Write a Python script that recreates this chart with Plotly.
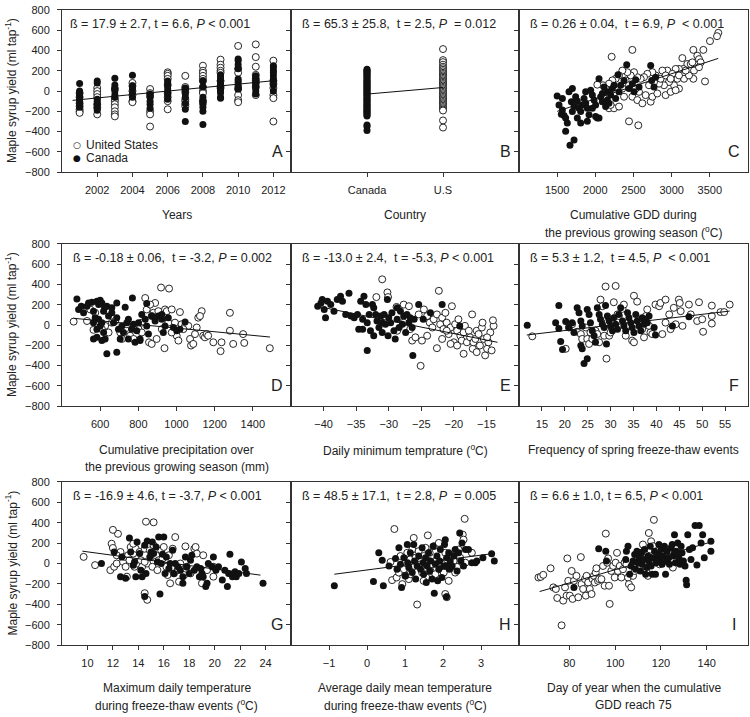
import plotly.graph_objects as go

FONT = "Liberation Sans, Arial, sans-serif"
INK = "#222222"
LINE = "#333333"

# ---------------- data ----------------
# Panel A: yield by year
A_us = {2001: [-20, -60, -120, -150, -180, -200, -215],
        2002: [30, 0, -30, -60, -130, -160, -230],
        2003: [20, -80, -100, -130, -160, -200, -230, -250],
        2004: [80, 50, 0, -40, -100, -110],
        2005: [20, -20, -50, -200, -230, -350],
        2006: [185, 170, 150, 120, 60, -20, -60, -100, -180],
        2007: [150, 40, 20, -10, -80, -100, -130, -150],
        2008: [250, 200, 180, 150, 120, 100, 40, 0, -20, -100, -110],
        2009: [310, 260, 230, 200, 180, 100, 50, 30],
        2010: [445, 220, 180, 20, -40, -90, -110],
        2011: [460, 335, 240, 160, 120, 100, 80, 40, -40],
        2012: [300, 100, 70, 30, -40, -70, -300]}
A_ca = {2001: [75, 0, -20, -50, -80, -100, -130, -160],
        2002: [100, 80, -80, -100, -130, -170, -190],
        2003: [125, 60, 30, 0, -40, -60],
        2004: [155, 50, 20, -20, -60],
        2005: [-30, -60, -100, -130, -170],
        2006: [100, 80, 50, 20, -10, -40, -80],
        2007: [30, 0, -30, -60, -120, -180, -300],
        2008: [100, 40, -60, -90, -130, -160, -200, -330],
        2009: [160, 140, 120, 100, 80, 60, 40, 20, 0, -20, -60, -70],
        2010: [315, 300, 260, 220, 120, 100, 80, 50, 40, 20],
        2011: [150, 130, 110, 90, 70, 50, 30, 0, -30],
        2012: [250, 230, 200, 180, 150, 120, 100, 60, 0]}
A_fit = [(2000.6, -92), (2012, 102)]

# Panel B: yield by country
B_ca = [215, 205, 195, 185, 172, 160, 150, 138, 125, 112, 100, 92, 80, 70, 58, 45, 35, 22,
        12, 0, -10, -22, -35, -45, -58, -70, -82, -95, -105, -118, -130, -142, -155, -165,
        -178, -190, -200, -212, -222, -235, -245, -335, -350, -390]
B_us = [414, 305, 285, 260, 240, 225, 210, 195, 180, 168, 155, 142, 130, 118, 105, 92, 80,
        68, 55, 42, 30, 18, 5, -8, -20, -32, -45, -58, -70, -82, -95, -108, -120, -132,
        -145, -158, -170, -182, -192, -290, -360]
B_cats = ["Canada", "U.S"]
B_fit = [-30, 35]

# Panel C: cumulative GDD previous season
C_ca = [(1500, -50), (1524, -137), (1568, -186), (1555, -228), (1590, -241), (1611, -267),
        (1633, -315), (1568, -73), (1655, -8), (1699, 24), (1686, -105), (1721, -153),
        (1742, -56), (1764, -98), (1786, -170), (1808, -202), (1830, -137), (1852, -73),
        (1873, -121), (1895, -170), (1917, -234), (1939, 8), (1961, -40), (1983, -89),
        (2004, -137), (2026, -267), (2048, 121), (2070, -56), (2092, -105), (2114, 40),
        (2135, -153), (2157, -8), (2179, -121), (2201, -40), (2223, 24), (2245, 57),
        (2266, -73), (2297, 160), (2310, -8), (2332, 57), (2376, 105), (2411, 260),
        (2441, 24), (2485, 73), (2528, 112), (2507, -8), (2572, 40), (2725, 251), (2738, 105),
        (2769, 40), (2790, 137), (1764, -267), (1699, -202), (1808, -315), (1895, -299),
        (2004, -250), (2048, -267), (1611, -396), (1721, -483), (1668, -535), (2092, -24),
        (2157, -89), (1961, -170), (1873, -8)]
C_us = [(2485, 406), (2214, 338), (3611, 574), (3594, 541), (3502, 493), (3415, 406),
        (3284, 406), (3336, 348), (3358, 315), (3380, 283), (3140, 325), (3205, 267),
        (3249, 267), (3153, 218), (3096, 218), (3052, 218), (2943, 202), (2878, 202),
        (3009, 170), (3074, 121), (3162, 121), (3284, 121), (3437, 95), (3096, 24), (3031, 57),
        (2965, 89), (2900, 57), (2834, 73), (2790, 154), (2747, 186), (2681, 170), (2638, 137),
        (2594, 121), (2550, 137), (2507, 186), (2463, 154), (2419, 186), (2354, 202),
        (2310, 154), (2266, 121), (2223, 105), (2179, 73), (2135, 24), (2100, 57), (2026, 63),
        (2397, 105), (2441, 57), (2354, 24), (2288, 8), (2245, -24), (2376, -56), (2485, -56),
        (2550, -89), (2616, -121), (2725, -105), (2659, -40), (2747, -56), (2812, -24),
        (2921, -40), (2987, -8), (3052, 8), (2572, -8), (2528, 24), (2179, -170), (2245, -170),
        (2310, -153), (2201, -137), (2114, -73), (2441, -299), (2563, -338), (2703, 57),
        (2769, 89), (2856, 121), (2921, 154), (2987, 121), (3096, 154), (3227, 154),
        (3293, 202), (3358, 235), (3184, 202), (3271, 283)]
C_fit = [(1500, -200), (3610, 322)]

# Panel D: cumulative precipitation previous season
D_ca = [(478, 257), (487, 154), (501, 186), (513, 121), (531, 186), (539, 218), (557, 225),
        (565, 137), (583, 234), (592, 202), (600, 244), (609, 218), (618, 137), (623, 170),
        (635, 186), (574, 73), (592, 57), (609, 24), (565, 24), (583, -40), (600, -8),
        (618, -73), (565, -137), (583, -121), (609, -153), (626, -137), (644, 89), (661, 121),
        (670, 24), (687, 73), (696, -40), (714, -8), (722, -73), (740, 24), (748, 57),
        (766, -40), (775, 8), (792, -56), (801, 24), (809, -153), (818, 105), (836, 57),
        (844, -8), (853, -89), (870, 89), (888, 40), (905, 89), (923, 57), (940, -8), (957, 73),
        (984, -24), (1001, -56), (1018, -40), (1045, 31), (931, -73), (923, 105), (769, 267),
        (844, 212), (731, 176), (661, 170), (687, 218), (635, -283), (687, -267), (705, -137),
        (748, -137), (783, -170), (809, -137)]
D_us = [(461, 34), (531, 40), (548, 154), (565, -47), (574, 121), (626, -8), (661, 24),
        (679, 40), (705, -73), (714, -137), (731, -40), (757, -105), (775, -137), (801, -40),
        (818, -73), (836, 267), (844, 154), (856, -170), (870, -186), (879, 121), (888, 218),
        (896, -137), (905, 137), (919, 370), (937, -228), (940, 154), (949, 137), (961, 360),
        (957, 24), (975, 154), (992, 24), (1001, -105), (1010, -153), (1018, 128), (1027, 8),
        (1045, -8), (1062, -8), (1071, -137), (1076, -202), (1088, -186), (1097, -89),
        (1106, -24), (1114, 73), (1132, 137), (1123, 89), (1140, -105), (1149, -121),
        (1158, -89), (1166, -105), (1193, -170), (1236, -170), (1231, -257), (1280, 121),
        (1280, -56), (1297, -186), (1349, -89), (1355, -176), (1489, -228), (862, 202),
        (870, 89), (818, 24), (775, -8), (740, 8), (609, -40), (644, -73), (923, -40),
        (975, -73), (1036, -40)]
D_fit = [(460, 67), (1490, -118)]

# Panel E: daily minimum temperature
E_ca = [(-40.9, 186), (-40.4, 218), (-40.2, 251), (-39.9, 154), (-39.7, 73), (-39.4, 234),
        (-38.9, 202), (-38.4, 137), (-37.9, 251), (-37.4, 283), (-37.1, 234), (-36.6, 105),
        (-36.1, 315), (-35.8, 89), (-35.3, 73), (-34.8, 105), (-34.6, -40), (-34.3, 234),
        (-34.0, 57), (-33.8, 283), (-33.5, 202), (-33.3, 24), (-33.0, 105), (-32.8, -56),
        (-32.5, 202), (-32.3, -105), (-32.0, 105), (-31.8, 40), (-31.5, -24), (-31.2, 89),
        (-31.0, 24), (-30.7, 105), (-30.5, 8), (-30.2, 251), (-30.1, -105), (-30.0, 73),
        (-29.7, 24), (-29.5, 121), (-29.2, -56), (-29.0, -137), (-28.7, 57), (-28.4, -24),
        (-28.2, 137), (-27.9, 8), (-27.7, 89), (-27.4, -73), (-27.2, 105), (-26.9, 24),
        (-26.7, 73), (-26.4, -24), (-26.1, 57), (-25.4, 202), (-24.7, 57), (-23.6, 121),
        (-21.8, 202), (-19.1, -8), (-33.3, -250), (-26.3, -299), (-32.3, 170), (-28.7, 170),
        (-31.0, -73), (-34.0, -40)]
E_us = [(-31.0, 451), (-30.2, 322), (-31.9, 276), (-30.1, 276), (-28.8, 179), (-27.7, 202),
        (-26.9, 186), (-25.4, 105), (-24.6, 154), (-24.1, 89), (-23.7, 24), (-23.3, -24),
        (-23.1, 57), (-22.6, 105), (-22.3, 338), (-22.1, 8), (-21.8, 73), (-21.6, -40),
        (-21.3, 121), (-21.1, 24), (-20.8, -89), (-20.5, -24), (-20.3, 186), (-20.0, -170),
        (-19.8, 8), (-19.5, -56), (-19.3, 57), (-19.0, -105), (-18.8, -153), (-18.5, -73),
        (-18.3, -8), (-18.0, -170), (-17.7, -56), (-17.5, -121), (-17.2, 105), (-17.1, -234),
        (-17.0, -170), (-16.7, -137), (-16.5, -56), (-16.2, -89), (-16.0, -202), (-15.7, -24),
        (-15.6, 24), (-15.4, -137), (-15.2, -299), (-14.9, -234), (-14.7, -170), (-14.4, -73),
        (-14.2, -250), (-13.9, -8), (-14.0, 47), (-25.1, -402), (-26.4, -153), (-22.6, -228),
        (-20.5, -186), (-18.5, -283), (-27.7, 24), (-28.7, -56), (-26.7, -40), (-25.9, -121),
        (-24.9, -153), (-24.1, -105), (-21.8, -137), (-21.1, -56), (-19.5, -202),
        (-16.5, -267), (-14.9, -121)]
E_fit = [(-41.0, 185), (-13.3, -170)]

# Panel F: frequency of spring freeze-thaw events
F_ca = [(11.8, -2), (18.0, 24), (18.7, 192), (18.7, -34), (19.1, -163), (19.5, -241), (20.2, 34),
        (20.9, -24), (21.6, 24), (22.0, -73), (22.7, 170), (23.1, 121), (23.5, 40), (23.8, -8),
        (23.5, -202), (23.8, -234), (24.2, -380), (24.9, -331), (24.9, 154), (25.3, 105),
        (25.6, 24), (26.0, -56), (26.4, -105), (26.7, -170), (27.1, 170), (27.5, 105),
        (27.8, 57), (28.2, 8), (28.6, -24), (28.9, 192), (29.1, -186), (29.3, 89), (29.7, 40),
        (30.0, -8), (30.4, -56), (30.7, 73), (31.1, 8), (31.5, -40), (31.8, 105), (32.2, 170),
        (32.6, 40), (32.9, -8), (33.3, -56), (33.7, 121), (34.0, 73), (34.4, 24), (34.7, -24),
        (35.1, -73), (35.5, 105), (35.8, 40), (36.2, -8), (36.6, -56), (36.9, 73), (37.3, 8),
        (37.7, 57), (38.0, 24), (38.4, 89), (39.5, -24), (39.8, -98), (47.1, 83), (43.5, -8)]
F_us = [(12.9, -111), (20.2, -234), (20.9, -24), (21.6, 8), (22.7, -66), (23.5, -89),
        (23.8, -137), (24.6, -24), (24.9, -137), (25.3, -186), (25.6, -73), (26.0, -137),
        (26.7, -56), (27.1, -89), (27.5, -170), (27.8, 251), (28.2, 186), (28.6, -105),
        (28.9, 380), (29.1, -331), (29.3, 24), (29.7, -105), (30.0, -73), (30.7, 225),
        (31.1, 386), (31.5, 105), (31.8, 89), (32.6, 160), (32.9, 202), (33.3, -105),
        (33.7, -8), (34.7, -153), (35.1, -170), (35.1, 289), (35.8, 231), (36.2, 40),
        (36.9, -40), (37.3, -121), (37.7, 89), (38.0, 154), (38.4, -8), (38.7, -73),
        (39.1, -89), (39.8, 202), (40.6, 186), (40.9, 218), (41.3, -89), (42.0, 251),
        (42.0, 24), (42.8, 105), (43.1, -40), (43.8, 170), (44.2, 8), (44.9, 251), (45.1, 218),
        (45.3, 137), (45.7, -8), (47.1, 202), (47.5, 105), (48.9, 40), (49.3, 225), (50.0, 57),
        (50.2, -66), (52.1, 192), (52.1, 89), (52.1, 15), (54.0, 128), (54.8, 128), (56.0, 202)]
F_fit = [(11.7, -98), (56.0, 138)]

# Panel G: maximum daily temperature during freeze-thaw events
G_ca = [(11.1, 0), (12.1, 113), (12.6, -129), (12.7, 65), (13.0, -145), (13.3, 249), (13.4, 113),
        (13.6, -16), (13.7, 16), (13.8, -129), (13.9, 210), (14.1, 97), (14.2, -65),
        (14.3, -129), (14.5, 178), (14.6, -97), (14.7, 220), (14.9, 65), (15.0, 113),
        (15.1, 210), (15.2, 97), (15.4, 162), (15.5, 16), (15.6, 259), (15.8, 0), (15.9, 90),
        (16.0, 259), (16.1, -97), (16.2, 65), (16.4, -48), (16.5, 0), (16.7, 129), (16.8, -97),
        (16.9, 0), (17.1, -32), (17.3, -65), (17.5, -129), (17.5, -194), (17.7, 65),
        (17.8, -32), (18.0, -97), (18.1, 32), (18.2, 81), (18.4, -65), (18.6, -32),
        (18.8, -129), (18.9, -48), (19.0, -97), (19.1, -129), (19.3, -226), (19.4, -194),
        (19.5, 0), (19.8, -32), (19.9, 65), (20.1, -65), (20.3, -32), (20.6, -162), (20.8, -65),
        (21.0, -226), (21.1, -97), (21.2, 90), (21.4, -129), (21.5, -97), (21.6, -81),
        (21.7, -129), (21.9, -97), (22.1, 16), (22.4, -48), (22.5, -97), (23.8, -194),
        (14.5, -323), (15.7, -300)]
G_us = [(9.7, 65), (10.6, -16), (11.8, -65), (11.9, 194), (12.0, 152), (12.1, -32), (12.3, 0),
        (12.4, 291), (12.6, 113), (12.8, 16), (12.9, 65), (13.0, -32), (13.2, 81), (13.3, 32),
        (13.4, 162), (13.6, 97), (13.7, -32), (13.8, 145), (13.9, 0), (14.1, 113), (14.2, 32),
        (14.3, -32), (14.5, 145), (14.5, -291), (14.7, -356), (14.7, 0), (14.9, 129),
        (15.0, 65), (15.1, -32), (15.2, 178), (15.4, 81), (15.5, -65), (15.6, 32), (15.8, 129),
        (15.9, 48), (16.0, 162), (16.2, -32), (16.3, -113), (16.4, 81), (16.5, -194),
        (16.7, 145), (16.8, -97), (16.9, 259), (17.1, -65), (17.2, -178), (17.3, 0),
        (17.6, -113), (17.7, 168), (17.8, -32), (18.1, -97), (18.4, 145), (18.5, 162),
        (18.6, 97), (19.0, -194), (19.1, 81), (19.4, -65), (19.9, -32), (19.9, -129),
        (14.6, 410), (15.2, 404), (14.5, 16), (13.6, 194), (12.3, 81), (12.0, 330),
        (13.1, -129)]
G_fit = [(9.6, 121), (23.6, -114)]

# Panel H: average daily mean temperature during freeze-thaw events
H_ca = [(-0.86, -218), (0.17, -176), (0.31, 105), (0.40, 31), (0.43, -218), (0.58, -24),
        (0.75, 50), (0.79, -56), (0.84, 154), (0.88, -8), (0.91, -234), (0.97, 57), (1.01, -121),
        (1.06, 186), (1.07, 8), (1.10, -40), (1.14, 105), (1.19, -89), (1.23, 186), (1.25, 24),
        (1.28, -153), (1.32, -24), (1.36, 73), (1.41, -56), (1.45, 154), (1.48, 8),
        (1.49, -105), (1.54, 57), (1.56, -186), (1.58, -24), (1.62, 105), (1.65, -73),
        (1.67, 24), (1.71, -153), (1.74, 170), (1.77, -292), (1.80, -8), (1.84, 73),
        (1.86, -170), (1.89, -56), (1.91, 24), (1.93, 137), (1.97, -137), (2.02, -24),
        (2.04, 186), (2.06, 234), (2.09, -325), (2.10, 57), (2.15, 105), (2.17, -56),
        (2.19, 24), (2.24, -24), (2.28, 73), (2.32, 137), (2.37, -73), (2.41, 105), (2.44, 299),
        (2.47, 24), (2.50, 202), (2.54, -24), (2.59, 137), (2.67, 137), (2.76, 8), (2.85, 8),
        (2.89, 24), (3.05, 57), (3.28, 95), (3.35, 24), (2.10, -24)]
H_us = [(0.62, 15), (0.66, -163), (0.72, 338), (0.78, -137), (0.84, -89), (0.88, 73),
        (0.93, -202), (0.97, -56), (1.01, 8), (1.06, 105), (1.10, -153), (1.14, 40), (1.19, 137),
        (1.23, 251), (1.25, -24), (1.28, 57), (1.32, -402), (1.36, 121), (1.41, -8),
        (1.45, -89), (1.49, 73), (1.54, 154), (1.56, -137), (1.60, 276), (1.62, 24), (1.65, 105),
        (1.67, -73), (1.71, -8), (1.76, 170), (1.80, -105), (1.84, 40), (1.89, 202),
        (1.93, -56), (1.97, 8), (2.02, -89), (2.06, 105), (2.10, 40), (2.15, -170),
        (2.19, -24), (2.24, 73), (2.28, 24), (2.32, -89), (2.37, -34), (2.41, 137), (2.45, 57),
        (2.52, 283), (2.54, 234), (2.57, 438), (2.59, 8), (2.76, 105), (2.06, -299),
        (2.10, -331), (1.49, -170), (1.14, -105), (1.01, -121)]
H_fit = [(-0.86, -105), (3.31, 97)]

# Panel I: day of year when cumulative GDD reaches 75
I_ca = [(82.0, -234), (92.8, 144), (95.9, 121), (96.2, 24), (104.6, 40), (104.9, 121),
        (105.6, 170), (106.3, -105), (107.0, -24), (107.8, 24), (108.5, 89), (108.9, -56),
        (109.5, 121), (109.9, 8), (110.4, 57), (111.0, -73), (111.4, 105), (111.8, -8),
        (112.4, 40), (112.8, 137), (113.3, -105), (113.8, -40), (114.3, 73), (114.7, 24),
        (115.3, 170), (115.7, -24), (116.2, -105), (116.7, 57), (117.2, 121), (117.6, -105),
        (117.9, 8), (118.6, 89), (119.1, 186), (119.4, 40), (120.1, 137), (120.5, -8),
        (120.8, 73), (121.5, 170), (122.0, -105), (122.3, 24), (122.7, 121), (123.4, 57),
        (123.7, -8), (124.4, 154), (124.9, 186), (125.4, 73), (125.9, 283), (126.3, 8),
        (126.6, 121), (127.3, 202), (127.8, 57), (128.3, -8), (128.8, 170), (129.2, 105),
        (129.8, 24), (130.5, -24), (131.0, -163), (131.2, -208), (131.7, 283), (132.4, 137),
        (133.1, 40), (133.8, 154), (134.9, 373), (135.7, -14), (136.7, 373), (137.5, 202),
        (138.2, 283), (138.9, 57), (141.8, 121), (141.8, 218), (125.9, 105), (128.1, 105)]
I_us = [(66.5, -137), (67.5, -131), (68.6, -111), (71.8, -47), (73.0, -234), (74.1, -250),
        (74.7, -338), (76.6, -606), (77.3, -364), (78.1, -234), (78.8, -315), (79.1, 50),
        (79.5, -170), (80.2, -315), (81.0, -73), (81.4, -347), (82.0, -170), (83.1, -121),
        (83.9, -331), (85.0, 63), (85.3, -202), (86.0, -250), (86.8, -153), (87.2, -315),
        (87.5, -121), (88.2, -186), (88.9, -250), (89.7, -299), (90.1, -153), (90.7, -121),
        (91.1, -186), (91.5, -89), (91.8, -47), (92.5, -170), (93.0, -153), (94.0, -153),
        (94.7, -24), (95.4, -218), (95.9, 293), (96.5, 8), (96.9, 50), (97.3, -218),
        (97.6, -396), (98.3, -73), (99.1, -24), (99.8, -137), (100.2, 8), (100.8, 105),
        (101.2, -73), (102.0, -24), (102.7, -137), (103.4, -56), (104.1, 8), (104.9, -8),
        (105.6, -137), (106.0, -202), (107.0, -234), (107.8, -121), (108.5, -73), (109.2, 24),
        (109.9, 57), (110.7, -56), (111.4, 105), (112.1, 186), (112.8, 8), (113.6, -73),
        (114.3, -121), (114.7, 299), (115.3, 137), (115.7, 218), (116.5, 170), (116.9, 428),
        (117.2, 73), (117.9, 8), (118.6, 121), (119.4, -8), (120.1, 40), (122.3, 137),
        (125.2, -40)]
I_fit = [(67.0, -275), (143.0, 218)]

Y_TICKS = [-800, -600, -400, -200, 0, 200, 400, 600, 800]

STATS = ["ß = 17.9 ± 2.7, t = 6.6, <i>P</i> &lt; 0.001",
         "ß = 65.3 ± 25.8,\u00a0 t = 2.5, <i>P</i>\u00a0 = 0.012",
         "ß = 0.26 ± 0.04,\u00a0 t = 6.9, <i>P</i>\u00a0 &lt; 0.001",
         "ß = -0.18 ± 0.06,\u00a0 t = -3.2, <i>P</i> = 0.002",
         "ß = -13.0 ± 2.4,\u00a0 t = -5.3, <i>P</i> &lt; 0.001",
         "ß = 5.3 ± 1.2,\u00a0 t = 4.5, <i>P</i>\u00a0 &lt; 0.001",
         "ß = -16.9 ± 4.6, t = -3.7, <i>P</i> &lt; 0.001",
         "ß = 48.5 ± 17.1,\u00a0 t = 2.8, <i>P</i>\u00a0 = 0.005",
         "ß = 6.6 ± 1.0, t = 6.5, <i>P</i> &lt; 0.001"]
LETTERS = ["A", "B", "C", "D", "E", "F", "G", "H", "I"]
XTITLES = [["Years"], ["Country"],
           ["Cumulative GDD during", "the previous growing season (<sup>o</sup>C)"],
           ["Cumulative precipitation over", "the previous growing season (mm)"],
           ["Daily minimum temprature (<sup>o</sup>C)"],
           ["Frequency of spring freeze-thaw events"],
           ["Maximum daily temperature", "during freeze-thaw events (<sup>o</sup>C)"],
           ["Average daily mean temperature", "during freeze-thaw events (<sup>o</sup>C)"],
           ["Day of year when the cumulative", "GDD reach 75"]]
X_RANGES = [[2000, 2013], [-1, 2], [1000, 4000], [400, 1600], [-45, -10], [10, 60],
            [8, 26], [-2, 4], [58, 158]]
X_TICKS = [[2002, 2004, 2006, 2008, 2010, 2012], None, [1500, 2000, 2500, 3000, 3500],
           [600, 800, 1000, 1200, 1400], [-40, -35, -30, -25, -20, -15],
           [15, 20, 25, 30, 35, 40, 45, 50, 55], [10, 12, 14, 16, 18, 20, 22, 24],
           [-1, 0, 1, 2, 3], [80, 100, 120, 140]]

# ---------------- assemble ----------------
def unzip(pairs):
    return [p[0] for p in pairs], [p[1] for p in pairs]

def flat(d):
    xs, ys = [], []
    for yr, vals in d.items():
        for v in vals:
            xs.append(yr)
            ys.append(v)
    return xs, ys

series = []
series.append((flat(A_us), flat(A_ca), unzip(A_fit)))
series.append(((["U.S"] * len(B_us), B_us), (["Canada"] * len(B_ca), B_ca), (B_cats, B_fit)))
for us, ca, fit in [(C_us, C_ca, C_fit), (D_us, D_ca, D_fit), (E_us, E_ca, E_fit),
                    (F_us, F_ca, F_fit), (G_us, G_ca, G_fit), (H_us, H_ca, H_fit),
                    (I_us, I_ca, I_fit)]:
    series.append((unzip(us), unzip(ca), unzip(fit)))

W, H = 750, 717
COL_X = [(62, 291), (291, 519), (519, 748)]
ROW_Y = [(4, 169), (242, 407), (484, 650)]

def px(x):
    return x / W

def py(y):
    return 1 - y / H

fig = go.Figure()
annotations = []
tickfont = dict(family=FONT, size=11, color=INK)

for i in range(9):
    r, c = divmod(i, 3)
    sfx = "" if i == 0 else str(i + 1)
    xa, ya = "x" + sfx, "y" + sfx
    (usx, usy), (cax, cay), (fx, fy) = series[i]
    fig.add_trace(go.Scatter(x=usx, y=usy, mode="markers", xaxis=xa, yaxis=ya,
                             name="United States", showlegend=False,
                             marker=dict(symbol="circle", size=7, color="white",
                                         line=dict(color="#111111", width=0.9))))
    fig.add_trace(go.Scatter(x=cax, y=cay, mode="markers", xaxis=xa, yaxis=ya,
                             name="Canada", showlegend=False,
                             marker=dict(symbol="circle", size=7, color="#111111",
                                         line=dict(width=0))))
    fig.add_trace(go.Scatter(x=fx, y=fy, mode="lines", xaxis=xa, yaxis=ya,
                             showlegend=False, line=dict(color="#111111", width=1)))

    x0, x1 = COL_X[c]
    y0, y1 = ROW_Y[r]
    xaxis = dict(domain=[px(x0), px(x1)], anchor=ya, range=X_RANGES[i],
                 showline=True, mirror=True, linecolor=LINE, linewidth=1,
                 ticks="outside", ticklen=4, tickcolor=LINE, tickwidth=1,
                 showgrid=False, zeroline=False, tickfont=tickfont,
                 ticklabelstandoff=4)
    if X_TICKS[i] is None:
        xaxis.update(type="category", categoryorder="array", categoryarray=B_cats)
    else:
        xaxis.update(tickmode="array", tickvals=X_TICKS[i])
    yaxis = dict(domain=[py(y1), py(y0)], anchor=xa, range=[-800, 800],
                 showline=True, mirror=True, linecolor=LINE, linewidth=1,
                 ticks="outside", ticklen=4, tickcolor=LINE, tickwidth=1,
                 showgrid=False, zeroline=False, tickfont=tickfont,
                 tickmode="array", tickvals=Y_TICKS, showticklabels=(c == 0),
                 ticklabelstandoff=5)
    fig.layout["xaxis" + sfx] = xaxis
    fig.layout["yaxis" + sfx] = yaxis

    # stats text
    sx = x0 + (6 if i == 0 else 9)
    sy = y0 + 14
    annotations.append(dict(x=px(sx), y=py(sy), xref="paper", yref="paper",
                            text=STATS[i], showarrow=False, xanchor="left", yanchor="middle",
                            font=dict(family=FONT, size=12.5, color=INK)))
    # panel letter
    annotations.append(dict(x=px(x1 - 14), y=py(y1 - 21), xref="paper", yref="paper",
                            text=LETTERS[i], showarrow=False, xanchor="center",
                            yanchor="middle", font=dict(family=FONT, size=16, color=INK)))
    # x titles
    first = [213, 452, 694][r]
    for k, line in enumerate(XTITLES[i]):
        annotations.append(dict(x=px((x0 + x1) / 2), y=py(first + 17 * k), xref="paper",
                                yref="paper", text=line, showarrow=False, xanchor="center",
                                yanchor="middle", font=dict(family=FONT, size=12, color=INK)))

# y titles
for r in range(3):
    y0, y1 = ROW_Y[r]
    annotations.append(dict(x=px(11), y=py((y0 + y1) / 2), xref="paper", yref="paper",
                            text="Maple syrup yield (ml tap<sup>-1</sup>)", textangle=-90,
                            showarrow=False, xanchor="center", yanchor="middle",
                            font=dict(family=FONT, size=12, color=INK)))

# legend (panel A)
for sym, label, ly in [("○", "United States", 141), ("●", "Canada", 155)]:
    annotations.append(dict(x=px(77), y=py(ly), xref="paper", yref="paper", text=sym,
                            showarrow=False, xanchor="center", yanchor="middle",
                            font=dict(family="DejaVu Sans", size=9, color="#111111")))
    annotations.append(dict(x=px(84), y=py(ly), xref="paper", yref="paper", text=label,
                            showarrow=False, xanchor="left", yanchor="middle",
                            font=dict(family=FONT, size=12, color=INK)))

fig.update_layout(width=W, height=H, margin=dict(l=0, r=0, t=0, b=0),
                  paper_bgcolor="white", plot_bgcolor="white", showlegend=False,
                  annotations=annotations, font=dict(family=FONT, color=INK))

fig.write_html("out.html", config={"displayModeBar": False},
               post_script="document.body.style.margin='0';document.body.style.padding='0';"
                           "document.documentElement.style.overflow='hidden';")
